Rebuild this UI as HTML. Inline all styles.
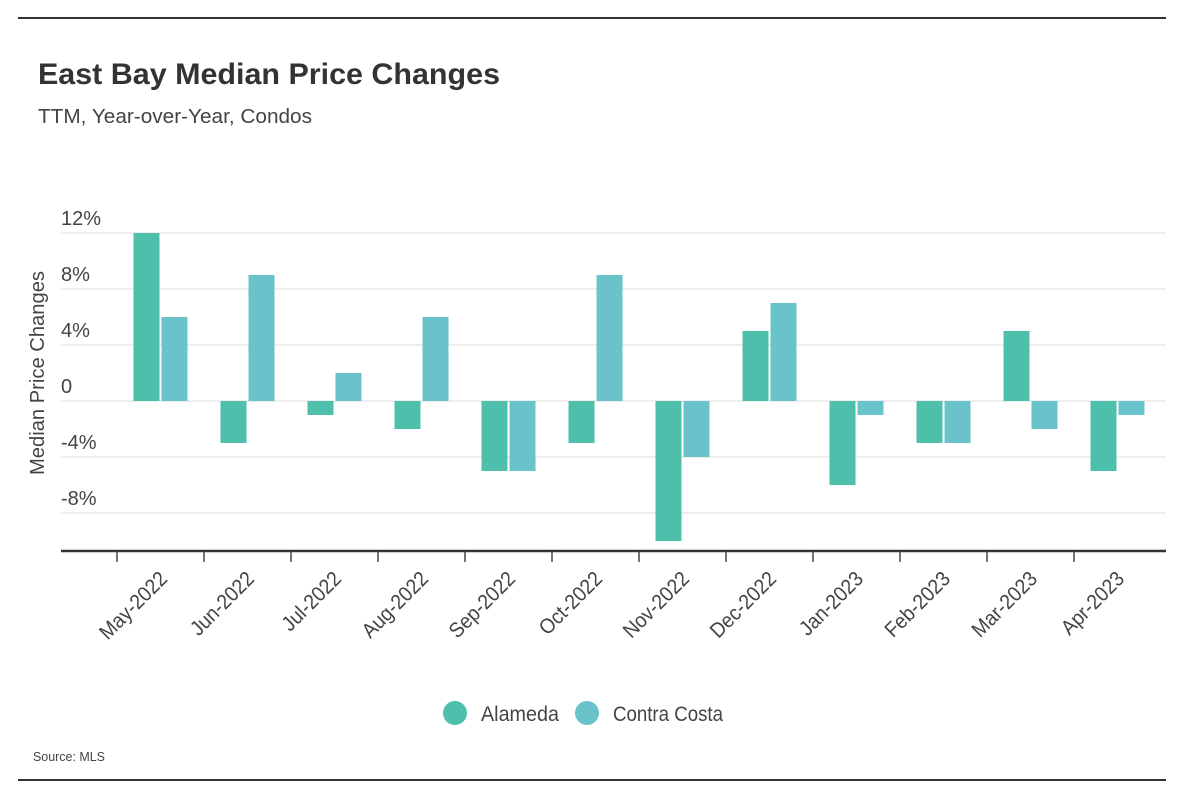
<!DOCTYPE html>
<html><head><meta charset="utf-8"><style>
body{margin:0;background:#fff;width:1184px;height:806px;overflow:hidden;font-family:"Liberation Sans",sans-serif;}
</style></head><body>
<svg width="1184" height="806" xmlns="http://www.w3.org/2000/svg">
<line x1="18" y1="18" x2="1166" y2="18" stroke="#333" stroke-width="2"/>
<text x="38" y="84" font-size="30" font-weight="bold" fill="#333" textLength="462" lengthAdjust="spacingAndGlyphs">East Bay Median Price Changes</text>
<text x="38" y="123" font-size="20" fill="#444" textLength="274" lengthAdjust="spacingAndGlyphs">TTM, Year-over-Year, Condos</text>
<g id="grid"></g>
<g id="bars"></g>
<g id="xaxis"></g>
<text transform="translate(44,373) rotate(-90)" text-anchor="middle" font-size="20" fill="#444" textLength="204" lengthAdjust="spacingAndGlyphs">Median Price Changes</text>
<g>
<circle cx="455" cy="713" r="12" fill="#4dbfaa"/>
<text x="481" y="721" font-size="21" fill="#444" textLength="78" lengthAdjust="spacingAndGlyphs">Alameda</text>
<circle cx="587" cy="713" r="12" fill="#6ac3cb"/>
<text x="613" y="721" font-size="21" fill="#444" textLength="110" lengthAdjust="spacingAndGlyphs">Contra Costa</text>
</g>
<text x="33" y="761" font-size="13" fill="#444" textLength="72" lengthAdjust="spacingAndGlyphs">Source:  MLS</text>
<line x1="18" y1="780" x2="1166" y2="780" stroke="#333" stroke-width="2"/>
</svg>
<script>
const categories=["May-2022","Jun-2022","Jul-2022","Aug-2022","Sep-2022","Oct-2022","Nov-2022","Dec-2022","Jan-2023","Feb-2023","Mar-2023","Apr-2023"];
const alameda=[12,-3,-1,-2,-5,-3,-10,5,-6,-3,5,-5];
const contraCosta=[6,9,2,6,-5,9,-4,7,-1,-3,-2,-1];
const yTicks=[12,8,4,0,-4,-8];
const yTickLabels=["12%","8%","4%","0","-4%","-8%"];
const NS="http://www.w3.org/2000/svg";
const y=v=>401-v*14;
const band=87, x0=117;
const bx=i=>x0+i*band;
function mk(t,a,p){const e=document.createElementNS(NS,t);for(const k in a)e.setAttribute(k,a[k]);p.appendChild(e);return e;}
const grid=document.getElementById('grid'),bars=document.getElementById('bars'),xa=document.getElementById('xaxis');
yTicks.forEach((v,i)=>{
 const l=mk('line',{x1:61,x2:1166,y1:y(v),y2:y(v),stroke:'#ddd','stroke-width':1},grid);
 
 
 const t=mk('text',{x:61,y:y(v)-8,'font-size':20,fill:'#444'},grid);t.textContent=yTickLabels[i];
 
 
});
const al=mk('line',{x1:61,x2:1166,y1:551,y2:551,stroke:'#333','stroke-width':2.5},xa);


categories.forEach((c,i)=>{
 const tk=mk('line',{x1:bx(i),x2:bx(i),y1:551,y2:562,stroke:'#444','stroke-width':1.5},xa);
 
 
 const cx=bx(i)+band/2;
 const t=mk('text',{transform:`translate(${cx+8},${580}) rotate(-45) scale(0.92,1)`,'text-anchor':'end','font-size':21,fill:'#444'},xa);
 t.textContent=c;
 
 
 [[alameda[i],'#4dbfaa',cx-27,'bar-alameda'],[contraCosta[i],'#6ac3cb',cx+1,'bar-contra-costa']].forEach(([v,col,x,n])=>{
  const r=mk('rect',{x:x,width:26,y:Math.min(y(v),y(0)),height:Math.abs(y(v)-y(0)),fill:col},bars);
  
  
 });
});
</script>
</body></html>
